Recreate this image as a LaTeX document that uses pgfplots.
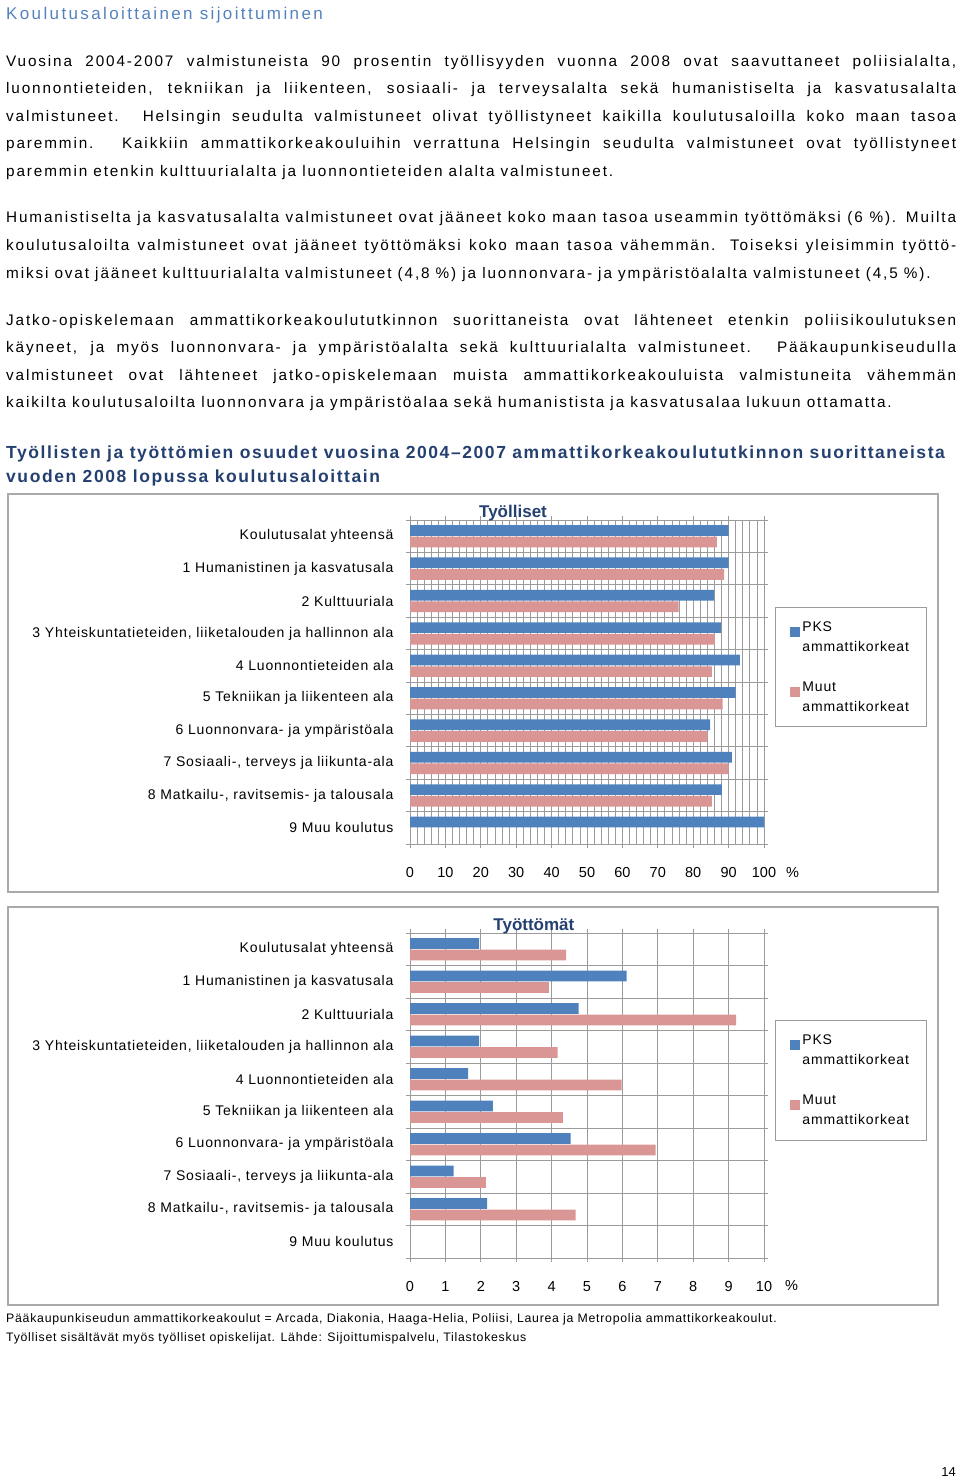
\documentclass[border=0pt]{standalone}
\usepackage{fontspec}
\setmainfont{Liberation Sans}
\newfontfamily\bodyfam[LetterSpace=12.2]{Liberation Sans}
\newfontfamily\labelfam[LetterSpace=6]{Liberation Sans}
\newfontfamily\headfam[LetterSpace=9]{Liberation Sans}
\newfontfamily\ttlfam[LetterSpace=14]{Liberation Sans}
\usepackage{pgfplots}
\usepackage{pgfplotstable}
\pgfplotsset{compat=1.18}
\definecolor{pksblue}{RGB}{79,129,189}
\definecolor{muutpink}{RGB}{217,150,148}
\definecolor{titleblue}{RGB}{84,130,190}
\definecolor{darkblue}{RGB}{36,64,112}
\definecolor{gridgray}{RGB}{155,155,155}
\definecolor{framegray}{RGB}{170,170,170}

\pgfplotstableread{
cat pks muut
0 90.0 86.7
1 90.0 88.7
2 85.9 75.9
3 87.9 86.1
4 93.2 85.3
5 92.0 88.3
6 84.8 84.0
7 90.9 90.0
8 88.1 85.3
9 100.0 nan
}\tyolliset

\pgfplotstableread{
cat pks muut
0 1.95 4.41
1 6.12 3.92
2 4.76 9.21
3 1.95 4.17
4 1.64 5.98
5 2.34 4.32
6 4.54 6.94
7 1.23 2.14
8 2.18 4.68
}\tyottomat

\newcommand\bodyfont{\bodyfam\fontsize{15.3}{20}\selectfont}
\newcommand\jline[2]{\node[anchor=base west,inner sep=0pt] at (6pt,-#1pt) {\bodyfont\makebox[950pt][s]{#2}};}
\newcommand\lline[2]{\node[anchor=base west,inner sep=0pt] at (6pt,-#1pt) {\bodyfont #2};}

\pgfplotsset{
  mybar/.style={
    xbar, scale only axis, width=354pt,
    ymin=-0.5, ymax=9.5, y dir=reverse,
    ytick={0,...,9},
    yticklabels={Koulutusalat yhteensä, 1 Humanistinen ja kasvatusala, 2 Kulttuuriala,
      {3 Yhteiskuntatieteiden, liiketalouden ja hallinnon ala}, 4 Luonnontieteiden ala,
      5 Tekniikan ja liikenteen ala, 6 Luonnonvara- ja ympäristöala,
      {7 Sosiaali-, terveys ja liikunta-ala}, {8 Matkailu-, ravitsemis- ja talousala}, 9 Muu koulutus},
    minor ytick={-0.5,0.5,...,9.5},
    yminorgrids, xmajorgrids,
    major y tick style={draw=none},
    tick align=outside,
    major tick length=4pt, minor tick length=4pt,
    axis line style={gridgray, line width=0.8pt},
    tick style={gridgray, line width=0.8pt},
    major grid style={gridgray, line width=0.8pt},
    minor grid style={gridgray, line width=0.8pt},
    yticklabel style={font=\labelfam\fontsize{14}{16}\selectfont, xshift=-9pt},
    xticklabel style={font=\fontsize{14.5}{16}\selectfont, yshift=-16pt},
    /pgf/number format/assume math mode=true,
    bar width=10.7pt,
    title style={font=\fontsize{17}{20}\selectfont\bfseries, text=darkblue, anchor=base, yshift=-3pt},
    legend style={at={(1.031,0.732)}, anchor=north west, draw=gridgray, line width=0.8pt,
      font=\labelfam\fontsize{14}{20}\selectfont, cells={align=left, anchor=west}, row sep=25pt,
      inner xsep=15pt, inner ysep=12pt},
    legend image code/.code={\fill[##1, draw=none] (0pt,0pt) rectangle (10pt,10pt);},
  }
}

\begin{document}
\begin{tikzpicture}
\path[use as bounding box] (0pt,0pt) rectangle (960pt,-1479pt);

\node[anchor=base west,inner sep=0pt,text=titleblue] at (6pt,-20pt) {\ttlfam\fontsize{17}{20}\selectfont Koulutusaloittainen sijoittuminen};

\jline{67}{Vuosina 2004-2007 valmistuneista 90 prosentin työllisyyden vuonna 2008 ovat saavuttaneet poliisialalta,}
\jline{94}{luonnontieteiden, tekniikan ja liikenteen, sosiaali- ja terveysalalta sekä humanistiselta ja kasvatusalalta}
\jline{122}{valmistuneet. Helsingin seudulta valmistuneet olivat työllistyneet kaikilla koulutusaloilla koko maan tasoa}
\jline{149}{paremmin. Kaikkiin ammattikorkeakouluihin verrattuna Helsingin seudulta valmistuneet ovat työllistyneet}
\lline{177}{paremmin etenkin kulttuurialalta ja luonnontieteiden alalta valmistuneet.}

\jline{223}{Humanistiselta ja kasvatusalalta valmistuneet ovat jääneet koko maan tasoa useammin työttömäksi (6 \%). Muilta}
\jline{251}{koulutusaloilta valmistuneet ovat jääneet työttömäksi koko maan tasoa vähemmän. Toiseksi yleisimmin työttö-}
\lline{278}{miksi ovat jääneet kulttuurialalta valmistuneet (4,8 \%) ja luonnonvara- ja ympäristöalalta valmistuneet (4,5 \%).}

\jline{325}{Jatko-opiskelemaan ammattikorkeakoulututkinnon suorittaneista ovat lähteneet etenkin poliisikoulutuksen}
\jline{352}{käyneet, ja myös luonnonvara- ja ympäristöalalta sekä kulttuurialalta valmistuneet. Pääkaupunkiseudulla}
\jline{380}{valmistuneet ovat lähteneet jatko-opiskelemaan muista ammattikorkeakouluista valmistuneita vähemmän}
\lline{407}{kaikilta koulutusaloilta luonnonvara ja ympäristöalaa sekä humanistista ja kasvatusalaa lukuun ottamatta.}

\node[anchor=base west,inner sep=0pt,text=darkblue] at (6pt,-458pt) {\headfam\fontsize{17.5}{20}\selectfont\bfseries Työllisten ja työttömien osuudet vuosina 2004–2007 ammattikorkeakoulututkinnon suorittaneista};
\node[anchor=base west,inner sep=0pt,text=darkblue] at (6pt,-482pt) {\headfam\fontsize{17.5}{20}\selectfont\bfseries vuoden 2008 lopussa koulutusaloittain};

\draw[framegray, line width=1.5pt] (8pt,-494pt) rectangle (938pt,-892pt);
\draw[framegray, line width=1.5pt] (8pt,-907pt) rectangle (938pt,-1305pt);

\begin{axis}[mybar, at={(410pt,-520pt)}, anchor=north west, height=324pt,
  xmin=0, xmax=100, xtick={0,10,...,100}, minor xtick={0,2,...,100}, xminorgrids,
  minor x tick style={draw=none},
  title={Työlliset}, title style={at={(0.291,1)}}]
\addplot[fill=pksblue, draw=none, bar shift=5.8pt] table[x=pks, y=cat] {\tyolliset};
\addplot[fill=muutpink, draw=none, bar shift=-5.8pt] table[x=muut, y=cat] {\tyolliset};
\addlegendentry{PKS\\ammattikorkeat}
\addlegendentry{Muut\\ammattikorkeat}
\end{axis}
\node[anchor=base west, inner sep=0pt] at (786pt,-877pt) {\fontsize{14.5}{16}\selectfont\%};

\begin{axis}[mybar, at={(410pt,-933pt)}, anchor=north west, height=325pt,
  xmin=0, xmax=10, xtick={0,1,...,10},
  title={Työttömät}, title style={at={(0.350,1)}}]
\addplot[fill=pksblue, draw=none, bar shift=5.8pt] table[x=pks, y=cat] {\tyottomat};
\addplot[fill=muutpink, draw=none, bar shift=-5.8pt] table[x=muut, y=cat] {\tyottomat};
\addlegendentry{PKS\\ammattikorkeat}
\addlegendentry{Muut\\ammattikorkeat}
\end{axis}
\node[anchor=base west, inner sep=0pt] at (785pt,-1290pt) {\fontsize{14.5}{16}\selectfont\%};

\node[anchor=base west,inner sep=0pt] at (6pt,-1322pt) {\labelfam\fontsize{12.3}{14}\selectfont Pääkaupunkiseudun ammattikorkeakoulut = Arcada, Diakonia, Haaga-Helia, Poliisi, Laurea ja Metropolia ammattikorkeakoulut.};
\node[anchor=base west,inner sep=0pt] at (6pt,-1341pt) {\labelfam\fontsize{12.3}{14}\selectfont Työlliset sisältävät myös työlliset opiskelijat. Lähde: Sijoittumispalvelu, Tilastokeskus};
\node[anchor=base east,inner sep=0pt] at (956pt,-1476pt) {\fontsize{13}{14}\selectfont 14};
\end{tikzpicture}
\end{document}
